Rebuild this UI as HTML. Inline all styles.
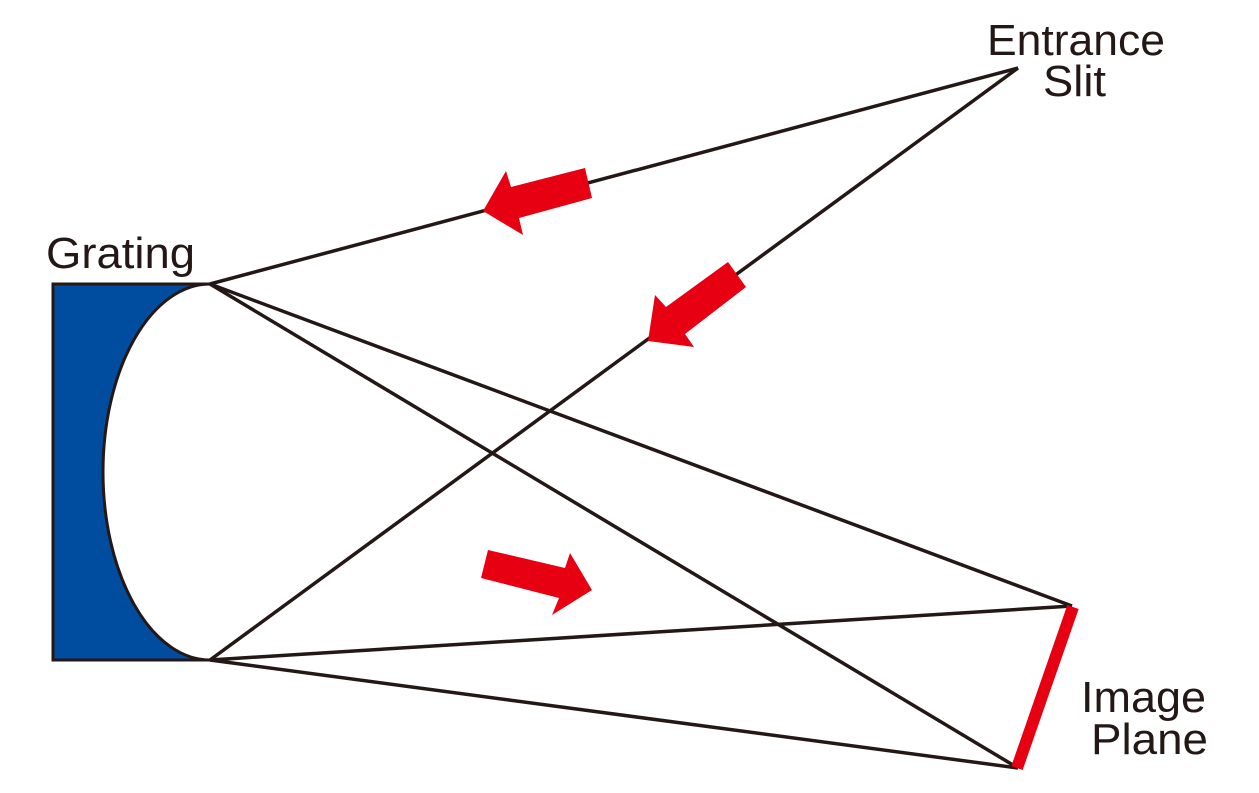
<!DOCTYPE html>
<html><head><meta charset="utf-8"><style>
html,body{margin:0;padding:0;background:#fff;}
svg{display:block;}
text{font-family:"Liberation Sans",Arial,sans-serif;font-size:44px;fill:#231815;}
</style></head><body>
<svg width="1259" height="793" viewBox="0 0 1259 793" xmlns="http://www.w3.org/2000/svg">
<path d="M53,284 L210,284 A107,188 0 0 0 210,660 L53,660 Z" fill="#004da0" stroke="#231815" stroke-width="3"/>
<g stroke="#231815" stroke-width="3.5" fill="none">
<line x1="1018" y1="68" x2="210" y2="284"/>
<line x1="1018" y1="68" x2="210" y2="660"/>
<line x1="210" y1="284" x2="1072" y2="606"/>
<line x1="210" y1="284" x2="1018" y2="768"/>
<line x1="210" y1="660" x2="1072" y2="606"/>
<line x1="210" y1="660" x2="1018" y2="768"/>
</g>
<line x1="1073" y1="607" x2="1017" y2="768" stroke="#e60012" stroke-width="12"/>
<g fill="#e60012">
<polygon points="483,211 506,171 511,187 585,168 592,198 519,218 523,235"/>
<polygon points="648,341 655,295 666,307 728,262 746,287 685,334 694,347"/>
<polygon points="488,550 565,568 570,553 592,590 552,615 559,598 481,578"/>
</g>
<text x="987" y="55" textLength="178" lengthAdjust="spacingAndGlyphs">Entrance</text>
<text x="1043" y="96" textLength="63" lengthAdjust="spacingAndGlyphs">Slit</text>
<text x="46" y="268" textLength="149" lengthAdjust="spacingAndGlyphs">Grating</text>
<text x="1081" y="712" textLength="125" lengthAdjust="spacingAndGlyphs">Image</text>
<text x="1091" y="754" textLength="117" lengthAdjust="spacingAndGlyphs">Plane</text>
</svg>
</body></html>
